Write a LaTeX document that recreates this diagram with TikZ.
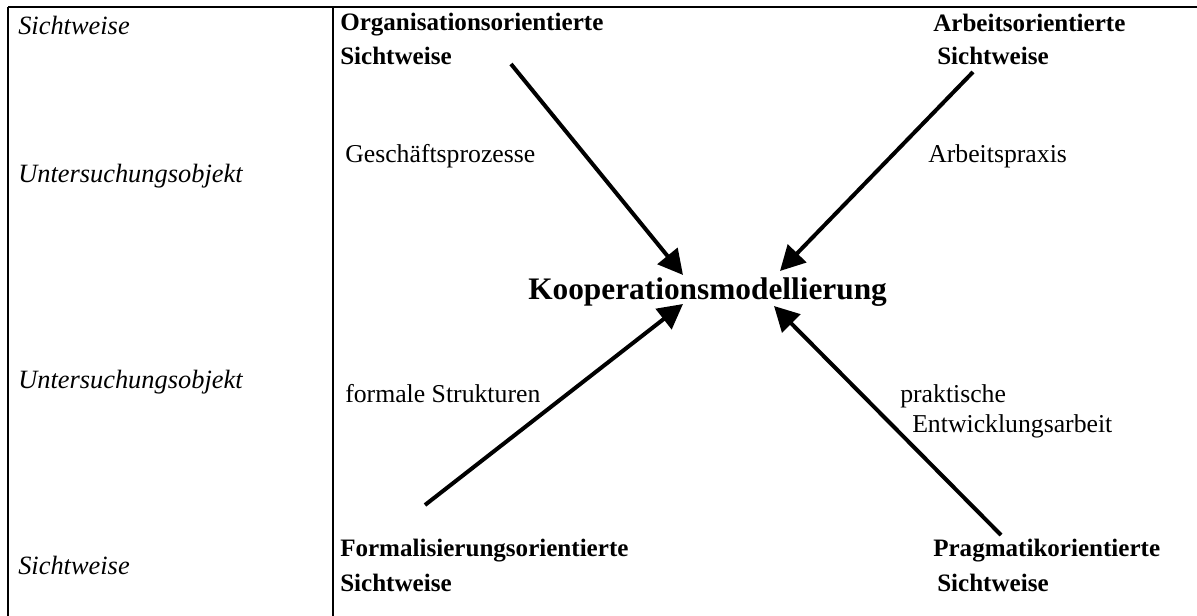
\documentclass[tikz,border=0pt]{standalone}
\usepackage{fontspec}
\setmainfont{Liberation Serif}
\usetikzlibrary{arrows.meta}
\begin{document}
\begin{tikzpicture}[x=0.75pt,y=-0.75pt,
  txt/.style={anchor=base west,inner sep=0pt,font=\fontsize{19.3}{23}\selectfont},
  side/.style={txt,font=\fontsize{19.8}{23}\selectfont\itshape},
  head/.style={txt,font=\fontsize{18.8}{22}\selectfont\bfseries},
  core/.style={txt,font=\fontsize{23.5}{27}\selectfont\bfseries},
  rule/.style={line width=1.2pt},
  arr/.style={line width=3pt,-{Triangle[length=18.5pt,width=19pt]}}]
\useasboundingbox (0,0) rectangle (1197,616);
% table rules
\draw[rule] (8,7) -- (1197,7);
\draw[rule] (8,7) -- (8,616);
\draw[rule] (333,7) -- (333,616);
% left column
\node[side] (s1) at (18,35) {Sichtweise};
\node[side] (u1) at (18,183) {Untersuchungsobjekt};
\node[side] (u2) at (18,389) {Untersuchungsobjekt};
\node[side] (s2) at (18,575) {Sichtweise};
% headings
\node[head] (orgA) at (340,31) {Organisationsorientierte};
\node[head] (orgB) at (340,65) {Sichtweise};
\node[head] (arbA) at (933,32) {Arbeitsorientierte};
\node[head] (arbB) at (937,65) {Sichtweise};
\node[head] (forA) at (340,557) {Formalisierungsorientierte};
\node[head] (forB) at (340,591) {Sichtweise};
\node[head] (praA) at (933,557) {Pragmatikorientierte};
\node[head] (praB) at (937,591) {Sichtweise};
% objects of study
\node[txt] (gp) at (345,163) {Geschäftsprozesse};
\node[txt] (ap) at (928,163) {Arbeitspraxis};
\node[txt] (fs) at (345,403) {formale Strukturen};
\node[txt] (pe1) at (900,403) {praktische};
\node[txt] (pe2) at (912,433) {Entwicklungsarbeit};
% centre
\node[core] (km) at (528,300) {Kooperationsmodellierung};
% arrows
\coordinate (oS) at (511,64);
\coordinate (oT) at (683,275);
\coordinate (aS) at (973,72);
\coordinate (aT) at (780,271);
\coordinate (fS) at (425,505);
\coordinate (fT) at (683,304);
\coordinate (pS) at (1001,535);
\coordinate (pT) at (774,306);
\draw[arr] (oS) -- (oT);
\draw[arr] (aS) -- (aT);
\draw[arr] (fS) -- (fT);
\draw[arr] (pS) -- (pT);
\end{tikzpicture}
\end{document}
